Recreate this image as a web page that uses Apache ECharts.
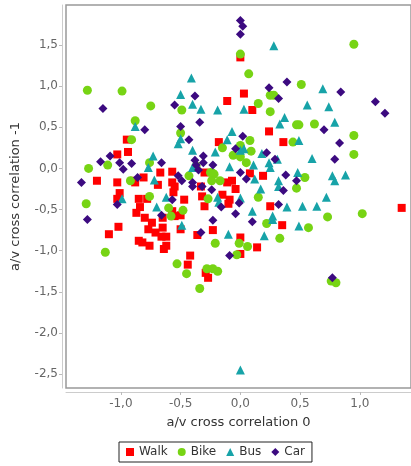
<!DOCTYPE html>
<html>
<head>
<meta charset="utf-8">
<script src="https://cdn.jsdelivr.net/npm/echarts@6/dist/echarts.min.js"></script>
<style>
html,body{margin:0;padding:0;background:#fff;}
#chart{width:411px;height:466px;}
</style>
</head>
<body>
<div id="chart"></div>
<script>
var seriesNames = ['Walk', 'Bike', 'Bus', 'Car'];
var xTicks = [-1.0, -0.5, 0.0, 0.5, 1.0];
var yTicks = [-2.5, -2.0, -1.5, -1.0, -0.5, 0.0, 0.5, 1.0, 1.5];

var walk = [
[-0.11,0.82],[0.00,1.35],[0.03,0.91],[0.10,0.71],[0.24,0.45],[0.36,0.32],[0.19,-0.09],[0.08,-0.06],
[-0.04,-0.25],[-0.15,-0.32],[-0.07,-0.15],[-0.11,-0.17],[-0.30,-0.05],[-0.32,-0.34],[-0.18,0.32],
[-0.09,-0.38],[0.25,-0.46],[1.35,-0.48],[0.35,-0.69],[0.00,-0.84],[0.14,-0.96],[0.00,-1.04],
[-1.10,-0.80],[-1.02,-0.71],[-0.87,-0.54],[-0.84,-0.47],[-0.80,-0.60],[-0.74,-0.66],[-0.77,-0.74],
[-0.71,-0.78],[-0.65,-0.60],[-0.65,-0.72],[-0.66,-0.83],[-0.62,-0.83],[-0.85,-0.88],[-0.82,-0.90],
[-0.76,-0.94],[-0.64,-0.98],[-0.62,-0.94],[-0.57,-0.52],[-0.55,-0.58],[-0.50,-0.57],[-0.50,-0.74],
[-0.30,-0.46],[-0.23,-0.75],[-0.36,-0.81],[-0.42,-1.06],[-0.44,-1.17],[-0.29,-1.27],[-0.27,-1.33],
[-0.95,0.35],[-0.94,0.20],[-1.03,0.17],[-1.20,-0.15],[-1.03,-0.17],[-0.89,-0.15],[-0.88,-0.17],
[-0.81,-0.11],[-0.67,-0.05],[-0.57,-0.04],[-0.69,-0.20],[-0.57,-0.17],[-0.55,-0.22],[-0.33,-0.22],
[-1.01,-0.30],[-1.03,-0.37],[-0.85,-0.37],[-0.78,-0.37],[-0.47,-0.38],[-0.56,-0.29],[-0.10,-0.43]
];

var bike = [
[-1.28,0.95],[-0.99,0.94],[-0.75,0.76],[-0.49,0.71],[0.95,1.51],[0.00,1.39],[0.07,1.15],[0.51,1.02],
[0.25,0.89],[0.28,0.89],[0.15,0.79],[0.25,0.69],[0.47,0.53],[0.49,0.53],[0.62,0.54],[0.95,0.40],
[0.95,0.17],[0.44,0.32],[0.54,-0.11],[0.47,-0.24],[0.15,-0.35],[-0.17,-0.15],[-0.23,-0.06],
[-0.15,0.25],[0.08,0.34],[0.00,0.28],[0.09,0.21],[-0.06,0.16],[0.00,0.14],[0.05,0.07],[0.73,-0.59],
[1.02,-0.55],[0.22,-0.67],[0.57,-0.72],[0.33,-0.85],[-0.01,-0.91],[0.06,-0.95],[-0.03,-1.05],
[0.76,-1.37],[0.80,-1.39],[-0.34,-1.46],[-0.28,-1.22],[-0.23,-1.22],[-0.19,-1.25],[-1.29,-0.43],
[-1.13,-1.02],[-0.60,-0.48],[-0.58,-0.58],[-0.48,-0.51],[-0.21,-0.91],[-0.53,-1.16],[-0.45,-1.28],
[-0.88,0.58],[-0.50,0.43],[-0.91,0.35],[-1.27,0.00],[-1.11,0.04],[-0.76,0.07],[-0.43,-0.09],
[-0.25,-0.05],[-0.22,-0.07],[-0.24,-0.15],[-0.76,-0.34],[-0.27,-0.37],[-0.92,-0.15],[-0.37,0.03]
];

var bus = [
[-0.41,1.10],[-0.50,0.90],[-0.40,0.78],[-0.33,0.72],[-0.19,0.71],[0.28,1.49],[0.69,0.97],[0.56,0.77],
[0.74,0.75],[0.03,0.72],[0.37,0.62],[0.33,0.54],[0.79,0.56],[0.49,0.34],[0.60,0.12],[0.31,0.11],
[0.18,0.18],[0.24,0.07],[0.25,0.01],[0.11,0.04],[0.48,-0.05],[0.32,-0.15],[0.32,-0.22],[0.77,-0.09],
[0.79,-0.15],[0.88,-0.08],[0.72,-0.35],[0.17,-0.25],[-0.21,0.20],[-0.11,0.35],[-0.07,0.45],
[0.00,0.22],[0.03,0.24],[-0.09,0.02],[0.12,-0.13],[0.00,-0.36],[0.39,-0.47],[0.52,-0.46],
[0.64,-0.46],[0.10,-0.52],[0.27,-0.58],[0.27,-0.62],[0.49,-0.70],[0.20,-0.82],[0.00,-2.45],
[-0.70,-0.47],[-0.49,-0.69],[-0.10,-0.80],[-0.88,0.51],[-0.50,0.36],[-0.52,0.30],[-0.40,0.22],
[-0.73,0.15],[-0.77,0.01],[-0.72,-0.14],[-0.40,0.01],[-0.19,-0.35],[-0.18,-0.41],[-0.62,-0.35],
[-0.99,-0.37]
];

var car = [
[-1.15,0.73],[-0.55,0.77],[-0.38,0.88],[0.00,1.80],[0.02,1.73],[0.00,1.63],[0.24,0.98],[0.39,1.05],
[0.84,0.93],[0.32,0.85],[1.13,0.81],[1.21,0.67],[0.70,0.47],[0.83,0.31],[0.79,0.11],[0.22,0.19],
[0.29,0.11],[0.38,-0.08],[0.47,-0.15],[0.36,-0.27],[0.05,-0.13],[-0.23,0.04],[-0.31,0.15],
[-0.31,0.07],[-0.24,-0.26],[-0.32,-0.22],[0.02,0.39],[-0.04,0.24],[-0.34,0.56],[0.00,-0.05],
[-0.01,-0.42],[0.32,-0.44],[-0.04,-0.55],[0.10,-0.65],[-0.09,-1.06],[0.77,-1.33],[-1.28,-0.62],
[-1.03,-0.44],[-0.16,-0.47],[-0.23,-0.63],[-0.33,-0.78],[-0.80,0.47],[-0.50,0.51],[-0.43,0.35],
[-1.09,0.15],[-1.17,0.08],[-1.01,0.07],[-0.98,-0.01],[-0.91,0.06],[-1.33,-0.17],[-0.86,-0.11],
[-0.66,0.07],[-0.52,-0.09],[-0.49,-0.15],[-0.40,-0.17],[-0.40,-0.22],[-0.38,0.10],[-0.37,0.04],
[-0.35,-0.02],[-0.57,-0.38],[-0.66,-0.57]
];

var colors = ['#ff0000', '#77d414', '#17a3a8', '#3c0a80'];
var symbols = ['rect', 'circle', 'triangle', 'diamond'];
var sizes = [8, 9, 9, 9];
var datasets = [walk, bike, bus, car];

function fmt(v) { return v.toFixed(1).replace('.', ','); }

var FONT = 'DejaVu Sans';
var chart = echarts.init(document.getElementById('chart'), null, {renderer: 'canvas'});
chart.setOption({
  animation: false,
  backgroundColor: '#fff',
  grid: {
    left: 66, right: 0, top: 5, bottom: 78,
    show: true, borderColor: '#999', borderWidth: 1.5, backgroundColor: '#fff'
  },
  xAxis: {
    type: 'value', min: -1.459, max: 1.428, offset: 4,
    name: 'a/v cross correlation 0', nameLocation: 'middle', nameGap: 24,
    nameTextStyle: {fontFamily: FONT, fontSize: 13, color: '#333'},
    axisLine: {show: true, onZero: false, lineStyle: {color: '#ccc', width: 1}},
    axisTick: {show: true, length: 3, customValues: xTicks, lineStyle: {color: '#bbb'}},
    axisLabel: {customValues: xTicks, formatter: fmt, fontFamily: FONT, fontSize: 12, color: '#666', margin: 6},
    splitLine: {show: false}
  },
  yAxis: {
    type: 'value', min: -2.67, max: 1.987, offset: 4,
    name: 'a/v cross correlation -1', nameLocation: 'middle', nameGap: 40, nameRotate: 90,
    nameTextStyle: {fontFamily: FONT, fontSize: 13, color: '#333'},
    axisLine: {show: true, onZero: false, lineStyle: {color: '#ccc', width: 1}},
    axisTick: {show: true, length: 3, customValues: yTicks, lineStyle: {color: '#bbb'}},
    axisLabel: {customValues: yTicks, formatter: fmt, fontFamily: FONT, fontSize: 12, color: '#666', margin: 4},
    splitLine: {show: false}
  },
  legend: {
    data: seriesNames, left: 119, top: 442,
    borderColor: '#222', borderWidth: 1, padding: [4, 7],
    itemWidth: 8, itemHeight: 8, itemGap: 10,
    textStyle: {fontFamily: FONT, fontSize: 12, color: '#333'}
  },
  series: seriesNames.map(function (n, i) {
    return {
      name: n, type: 'scatter', data: datasets[i],
      symbol: symbols[i], symbolSize: sizes[i],
      itemStyle: {color: colors[i], opacity: 1}
    };
  })
});
</script>
</body>
</html>
